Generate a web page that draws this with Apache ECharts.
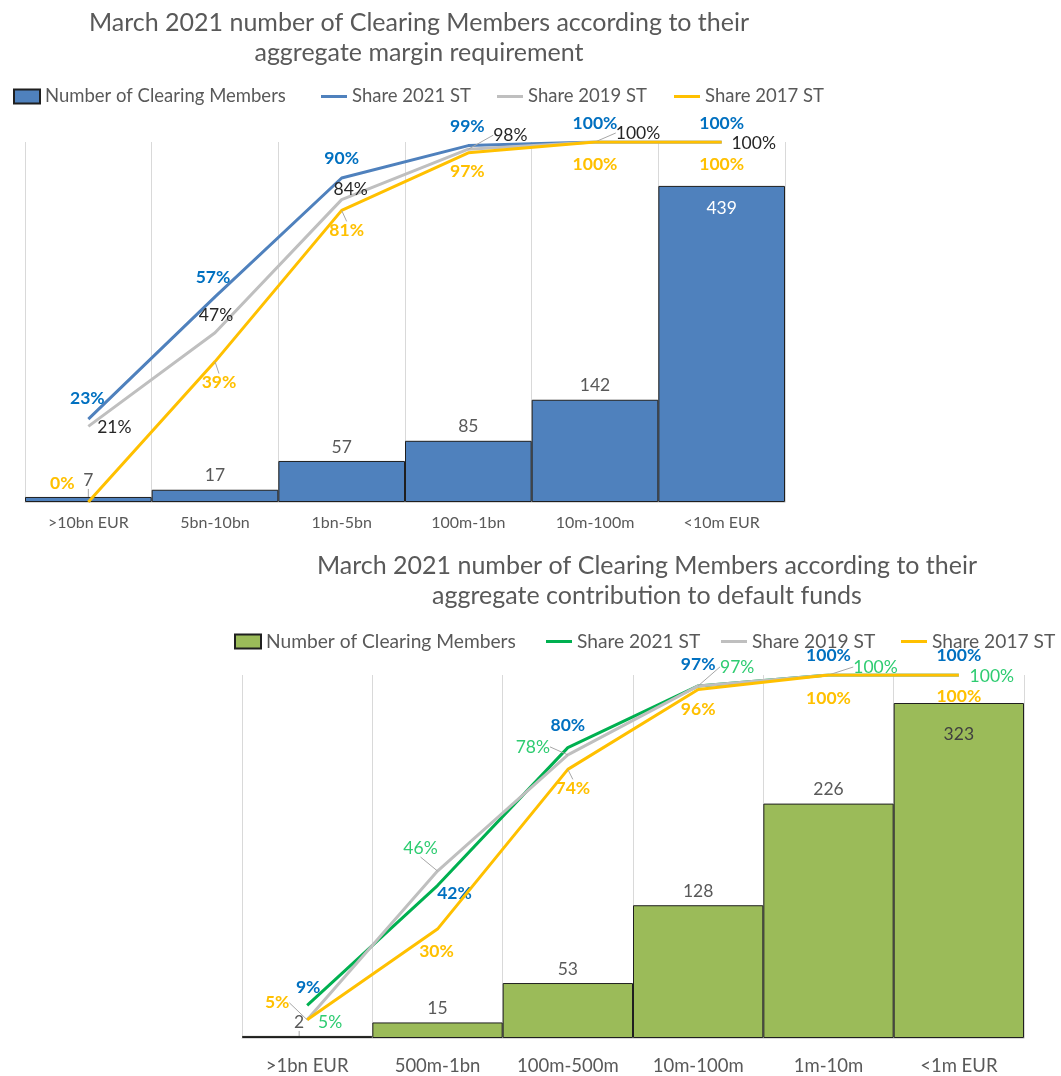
<!DOCTYPE html>
<html>
<head>
<meta charset="utf-8">
<script src="https://cdn.jsdelivr.net/npm/echarts@6/dist/echarts.min.js"></script>
<style>
html,body{margin:0;padding:0;background:#fff;}
#c1{position:absolute;left:0;top:0;width:1061px;height:540px;}
#c2{position:absolute;left:0;top:540px;width:1061px;height:536px;}
</style>
</head>
<body>
<div id="c1"></div>
<div id="c2"></div>
<script>
// ---------- DATA ----------
const titleTop = 'March 2021 number of Clearing Members according to their\naggregate margin requirement';
const catsTop = ['>10bn EUR', '5bn-10bn', '1bn-5bn', '100m-1bn', '10m-100m', '<10m EUR'];
const membersTop = [7, 17, 57, 85, 142, 439];
const share2021Top = [0.23, 0.57, 0.90, 0.99, 1.00, 1.00];
const share2019Top = [0.21, 0.47, 0.84, 0.98, 1.00, 1.00];
const share2017Top = [0.00, 0.39, 0.81, 0.97, 1.00, 1.00];

const titleBottom = 'March 2021 number of Clearing Members according to their\naggregate contribution to default funds';
const catsBottom = ['>1bn EUR', '500m-1bn', '100m-500m', '10m-100m', '1m-10m', '<1m EUR'];
const membersBottom = [2, 15, 53, 128, 226, 323];
const share2021Bottom = [0.09, 0.42, 0.80, 0.97, 1.00, 1.00];
const share2019Bottom = [0.05, 0.46, 0.78, 0.97, 1.00, 1.00];
const share2017Bottom = [0.05, 0.30, 0.74, 0.96, 1.00, 1.00];

const seriesNames = ['Number of Clearing Members', 'Share 2021 ST', 'Share 2019 ST', 'Share 2017 ST'];

// ---------- STYLE (label offsets / leader flags, not data) ----------
const FONT = 'Lato, "Open Sans", sans-serif';
const GREY_TXT = '#595959';
const offTop = {
  s21: [[-1,-21],[-2,-19],[0,-20],[-1,-19],[0,-19],[0,-19]],
  s19: [[26,1],[1,-17],[9,-10],[42,-14],[43,-9],[32,1]],
  s17: [[-26,-19],[4,21],[5,20],[-1,19],[0,22],[0,22]]
};
const leadTop = {
  s21: [0,0,0,0,0,0],
  s19: [0,0,0,1,1,0],
  s17: [0,1,1,0,0,0]
};
const offBottom = {
  s21: [[1,-18],[17,8],[0,-22],[0,-22],[0,-20],[0,-20]],
  s19: [[23,3],[-17,-23],[-35,-8],[39,-19],[47,-8],[33,1]],
  s17: [[-30,-17],[-1,22],[5,19],[0,20],[0,23],[0,21]]
};
const leadBottom = {
  s21: [0,0,0,0,0,0],
  s19: [0,1,1,1,1,0],
  s17: [1,0,1,0,0,0]
};

function pct(v){ return Math.round(v*100) + '%'; }

function lineSeries(name, vals, color, offs, leads, lblColor, bold, z){
  return {
    name: name, type: 'line', yAxisIndex: 1, symbol: 'circle', symbolSize: 0.1, showSymbol: true, z: z,
    lineStyle: {color: color, width: 3},
    itemStyle: {color: color},
    labelLayout: function (p) {
      const o = offs[p.dataIndex];
      return {dx: o[0], dy: o[1]};
    },
    data: vals.map((v, i) => ({
      value: v,
      label: {show: true, position: 'inside',
        formatter: pct(v), color: lblColor, fontFamily: FONT, fontSize: 17.5,
        fontWeight: bold ? 'bold' : 'normal'},
      labelLine: {show: !!leads[i], lineStyle: {color: '#a6a6a6', width: 1}}
    }))
  };
}

function build(cfg){
  const legends = cfg.legendPos.map((p, i) => ({
    data: [{name: seriesNames[i], icon: 'rect'}], left: p,
    top: cfg.legendTop,
    itemWidth: 26, itemHeight: i === 0 ? 14 : 3, itemGap: 4,
    textStyle: {color: GREY_TXT, fontFamily: FONT, fontSize: cfg.legendFont},
    selectedMode: false
  }));
  return {
    animation: false,
    title: {
      text: cfg.title, left: cfg.titleX, top: cfg.titleTop, textAlign: 'center',
      textStyle: {color: GREY_TXT, fontFamily: FONT, fontSize: 25, fontWeight: 'normal', lineHeight: 30}
    },
    legend: legends,
    grid: {left: cfg.grid[0], top: cfg.grid[1], width: cfg.grid[2], height: cfg.grid[3]},
    xAxis: {
      type: 'category', data: cfg.cats, boundaryGap: true,
      axisTick: {show: false},
      axisLine: {lineStyle: {color: '#d9d9d9', width: 1}},
      axisLabel: {color: GREY_TXT, fontFamily: FONT, fontSize: cfg.xFont, margin: cfg.xMargin, interval: 0},
      splitLine: {show: true, lineStyle: {color: '#d9d9d9', width: 1}}
    },
    yAxis: [
      {type: 'value', min: 0, max: cfg.barMax, show: false, splitLine: {show: false}},
      {type: 'value', min: 0, max: 1, show: false, splitLine: {show: false}}
    ],
    series: [
      {
        name: seriesNames[0], type: 'bar', barCategoryGap: '0%', z: 1,
        itemStyle: {color: cfg.barColor, borderColor: '#1f1f1f', borderWidth: 1},
        labelLayout: function (p) {
          const o = cfg.barLblOff[p.dataIndex] || [0, 0];
          return {dx: o[0], dy: o[1]};
        },
        data: cfg.members.map((v, i) => {
          const last = i === cfg.members.length - 1;
          return {
            value: v,
            label: {show: true, position: last ? 'insideTop' : 'top',
              color: last ? cfg.lastLblColor : GREY_TXT,
              fontFamily: FONT, fontSize: 17.5},
            labelLine: {show: i === 0, lineStyle: {color: '#a6a6a6', width: 1}}
          };
        })
      },
      lineSeries(seriesNames[1], cfg.s21, cfg.c21, cfg.offs.s21, cfg.leads.s21, '#0070C0', true, 3),
      lineSeries(seriesNames[2], cfg.s19, '#BFBFBF', cfg.offs.s19, cfg.leads.s19, cfg.c19lbl, false, 4),
      lineSeries(seriesNames[3], cfg.s17, '#FFC000', cfg.offs.s17, cfg.leads.s17, '#FFC000', true, 5)
    ]
  };
}

const chart1 = echarts.init(document.getElementById('c1'), null, {renderer: 'canvas'});
chart1.setOption(build({
  title: titleTop, titleX: 414, titleTop: 3,
  legendPos: [8, 316, 492, 669], legendTop: 82, legendFont: 18.5,
  grid: [25, 142, 760, 360],
  cats: catsTop, xFont: 16, xMargin: 13,
  barMax: 500, members: membersTop, barColor: '#4F81BD', lastLblColor: '#ffffff',
  barLblOff: [[0,-3],[0,0],[0,0],[0,0],[0,0],[0,8]],
  s21: share2021Top, s19: share2019Top, s17: share2017Top,
  c21: '#4F81BD', c19lbl: '#262626', offs: offTop, leads: leadTop
}));

const chart2 = echarts.init(document.getElementById('c2'), null, {renderer: 'canvas'});
chart2.setOption(build({
  title: titleBottom, titleX: 642, titleTop: 6,
  legendPos: [229, 541, 716, 896], legendTop: 87, legendFont: 19.2,
  grid: [242, 135, 782, 364],
  cats: catsBottom, xFont: 18.5, xMargin: 19,
  barMax: 350, members: membersBottom, barColor: '#9BBB59', lastLblColor: '#404040',
  barLblOff: [[-8,0],[0,0],[0,0],[0,0],[0,0],[0,17]],
  s21: share2021Bottom, s19: share2019Bottom, s17: share2017Bottom,
  c21: '#00B050', c19lbl: '#2ECC71', offs: offBottom, leads: leadBottom
}));
</script>
</body>
</html>
